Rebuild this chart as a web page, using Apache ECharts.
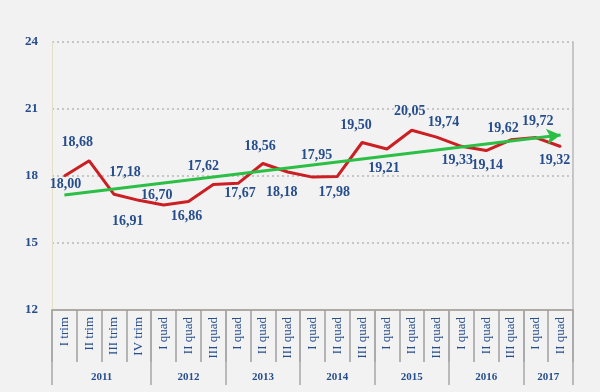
<!DOCTYPE html>
<html>
<head>
<meta charset="utf-8">
<script src="https://cdn.jsdelivr.net/npm/echarts@6/dist/echarts.min.js"></script>
<style>
html,body{margin:0;padding:0;background:#f2f2f2;}
#c{width:600px;height:392px;}
</style>
</head>
<body>
<div id="c"></div>
<script>
const categories = ['I trim','II trim','III trim','IV trim',
  'I quad','II quad','III quad',
  'I quad','II quad','III quad',
  'I quad','II quad','III quad',
  'I quad','II quad','III quad',
  'I quad','II quad','III quad',
  'I quad','II quad'];
const values = [18.00,18.68,17.18,16.91,16.70,16.86,17.62,17.67,18.56,18.18,17.95,17.98,19.50,19.21,20.05,19.74,19.33,19.14,19.62,19.72,19.32];
const years = ['2011','2012','2013','2014','2015','2016','2017'];
const yearSpans = [4,3,3,3,3,3,2];
const yTicks = [12,15,18,21,24];
const trendStart = 17.15;
const trendEnd = 19.84;

// label placement (style only): side, dx, dy
const labelPlace = [
  ['bottom',1,-5],['top',-12,-5],['top',11,-9],['bottom',-11,8],['top',-7,3],
  ['bottom',-2,2],['top',-10,-5],['bottom',2,-3],['top',-3,-4],['bottom',-6,7],
  ['top',4,-9],['bottom',-3,3],['top',-6,-4],['bottom',-3,6],['top',-2,-6],
  ['top',7,-2],['bottom',-4,1],['bottom',1,2],['top',-8,2],['top',2,-3],['bottom',-6,1]
];

const bounds = [0];
yearSpans.forEach(s => bounds.push(bounds[bounds.length-1] + s));
const centers = yearSpans.map((s,i) => bounds[i] + s/2);

const blue = '#264d8c';
const serif = '"Liberation Serif", "DejaVu Serif", serif';

const chart = echarts.init(document.getElementById('c'));
chart.setOption({
  backgroundColor: '#f2f2f2',
  animation: false,
  grid: {left: 52, right: 27, top: 42, bottom: 82},
  xAxis: [
    {
      type: 'category',
      data: categories,
      boundaryGap: true,
      axisLine: {show: true, lineStyle: {color: '#b0aaa4', width: 2}},
      axisTick: {show: true, length: 52, interval: 0, lineStyle: {color: '#a0a0a0', width: 1.5}},
      axisLabel: {interval: 0, rotate: 90, margin: 7, fontSize: 13, fontFamily: serif, color: blue},
      splitLine: {show: false}
    },
    {
      type: 'value',
      min: 0, max: 21,
      position: 'bottom',
      axisLine: {show: false},
      axisTick: {show: true, customValues: bounds, length: 75, lineStyle: {color: '#a8a8a8', width: 1.5}},
      axisLabel: {show: true, customValues: centers, margin: 62, fontSize: 11, fontWeight: 'bold', fontFamily: serif, color: blue,
        formatter: v => { const i = centers.findIndex(c => Math.abs(c - v) < 1e-6); return i >= 0 ? years[i] : ''; }},
      splitLine: {show: false}
    }
  ],
  yAxis: [
    {
      type: 'value',
      min: yTicks[0], max: yTicks[yTicks.length-1], interval: 3,
      axisLine: {show: true, lineStyle: {color: '#e6dfc8', width: 1}},
      axisTick: {show: false},
      axisLabel: {margin: 14, fontSize: 13, fontWeight: 'bold', fontFamily: serif, color: blue},
      splitLine: {show: true, lineStyle: {color: '#b8b8b8', type: [2,3], width: 1.5}}
    },
    {
      type: 'value',
      position: 'right',
      min: 12, max: 24,
      axisLine: {show: true, lineStyle: {color: '#b8b8b8', width: 1.5}},
      axisTick: {show: false},
      axisLabel: {show: false},
      splitLine: {show: false}
    }
  ],
  series: [
    {
      type: 'line',
      xAxisIndex: 0, yAxisIndex: 0,
      data: values.map((v,i) => ({
        value: v,
        label: {position: labelPlace[i][0]}
      })),
      symbol: 'circle',
      symbolSize: 2,
      showSymbol: true,
      itemStyle: {color: '#cc1f24'},
      lineStyle: {color: '#cc1f24', width: 3},
      label: {
        show: true, distance: 5,
        fontSize: 14, fontWeight: 'bold', fontFamily: serif, color: blue,
        formatter: p => p.value.toFixed(2).replace('.', ',')
      },
      labelLayout: p => {
        const lp = labelPlace[p.dataIndex];
        return lp ? {dx: lp[1], dy: lp[2], hideOverlap: false} : {};
      },
      markLine: {
        silent: true,
        symbol: ['none','arrow'],
        symbolSize: [12, 14],
        label: {show: false},
        lineStyle: {color: '#2bbf45', width: 3, type: 'solid'},
        data: [[{coord: [0, trendStart]}, {coord: [20, trendEnd]}]]
      },
      z: 3
    }
  ]
});
</script>
</body>
</html>
